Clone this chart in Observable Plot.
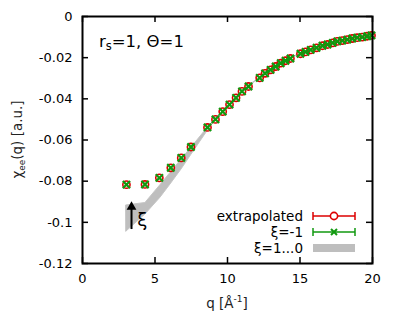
<!DOCTYPE html>
<html><head><meta charset="utf-8">
<script src="https://cdn.jsdelivr.net/npm/d3@7"></script>
<script src="https://cdn.jsdelivr.net/npm/@observablehq/plot@0.6"></script>
<style>
body{margin:0;background:#fff}
svg{font-family:"DejaVu Sans",sans-serif}
</style>
</head><body><div id="chart"></div>
<script>
// ---- data ----
const q = [3.03, 4.31, 5.30, 6.09, 6.81, 7.48, 8.62, 9.17, 9.67, 10.14, 10.59, 11.0, 11.45, 12.22, 12.59, 12.97, 13.32, 13.67, 14.0, 14.34, 15.03, 15.38, 15.74, 16.14, 16.55, 16.9, 17.26, 17.57, 17.91, 18.26, 18.6, 18.94, 19.29, 19.63, 19.93];
const chiExtrapolated = [-0.0817, -0.0816, -0.0784, -0.0735, -0.0687, -0.0634, -0.0539, -0.0500, -0.0462, -0.0428, -0.0395, -0.0364, -0.0340, -0.0298, -0.0276, -0.0259, -0.0243, -0.0227, -0.0215, -0.0204, -0.0181, -0.0172, -0.0162, -0.0152, -0.0142, -0.0136, -0.0128, -0.0121, -0.0117, -0.0112, -0.0107, -0.0103, -0.0100, -0.0096, -0.0092];
const chiXiMinus1 = [-0.0817, -0.0816, -0.0784, -0.0735, -0.0687, -0.0634, -0.0539, -0.0500, -0.0462, -0.0428, -0.0395, -0.0364, -0.0340, -0.0298, -0.0276, -0.0259, -0.0243, -0.0227, -0.0215, -0.0204, -0.0181, -0.0172, -0.0162, -0.0152, -0.0142, -0.0136, -0.0128, -0.0121, -0.0117, -0.0112, -0.0107, -0.0103, -0.0100, -0.0096, -0.0092];
const bandQ = [3.03, 4.34, 5.38, 6.07, 6.83, 7.52, 8.62, 9.17, 9.67, 10.14, 10.59, 11.0, 11.45, 12.22, 12.59, 12.97, 13.32, 13.67, 14.0, 14.34, 15.03, 15.38, 15.74, 16.14, 16.55, 16.9, 17.26, 17.57, 17.91, 18.26, 18.6, 18.94, 19.29, 19.63, 19.93];
const bandHi = [-0.0918, -0.0906, -0.0819, -0.0760, -0.0695, -0.0637, -0.0542, -0.0499, -0.0461, -0.0427, -0.0394, -0.0363, -0.0339, -0.0297, -0.0275, -0.0258, -0.0242, -0.0226, -0.0214, -0.0203, -0.0180, -0.0171, -0.0161, -0.0151, -0.0141, -0.0135, -0.0127, -0.0120, -0.0116, -0.0111, -0.0106, -0.0102, -0.0099, -0.0095, -0.0091];
const bandLo = [-0.1045, -0.0962, -0.0880, -0.0816, -0.0743, -0.0671, -0.0557, -0.0503, -0.0465, -0.0431, -0.0397, -0.0367, -0.0343, -0.0300, -0.0278, -0.0261, -0.0245, -0.0229, -0.0217, -0.0206, -0.0183, -0.0174, -0.0164, -0.0154, -0.0144, -0.0138, -0.0130, -0.0123, -0.0119, -0.0114, -0.0109, -0.0105, -0.0102, -0.0098, -0.0094];
const xTicks = [0, 5, 10, 15, 20];
const xTickLabels = ["0", "5", "10", "15", "20"];
const yTicks = [0, -0.02, -0.04, -0.06, -0.08, -0.1, -0.12];
const yTickLabels = ["0", "-0.02", "-0.04", "-0.06", "-0.08", "-0.1", "-0.12"];
const arrowQ = [3.38];
const arrowFrom = [-0.1035];
const arrowTo = [-0.0925];
const xiLabelQ = [3.78];
const xiLabelChi = [-0.0988];
const legendLabels = ["extrapolated", "ξ=-1", "ξ=1...0"];

// ---- layout ----
const W = 399, H = 330, mL = 82, mR = 27, mT = 16, mB = 67;
const innerW = W - mL - mR, innerH = H - mT - mB;
const RED = "#dd0000", GREEN = "#10990f", GREY = "#bebebe";

const pts = q.map((d, i) => ({q: d, a: chiExtrapolated[i], b: chiXiMinus1[i]}));
const band = bandQ.map((d, i) => ({q: d, lo: bandLo[i], hi: bandHi[i]}));
const arrows = arrowQ.map((d, i) => ({q: d, from: arrowFrom[i], to: arrowTo[i]}));
const xiLab = xiLabelQ.map((d, i) => ({q: d, chi: xiLabelChi[i], t: "ξ"}));

const plot = Plot.plot({
  width: W, height: H,
  marginLeft: mL, marginRight: mR, marginTop: mT, marginBottom: mB,
  x: {domain: [0, 20]},
  y: {domain: [-0.12, 0]},
  style: {fontFamily: "DejaVu Sans", fontSize: "13px", background: "white", color: "black"},
  marks: [
    Plot.areaY(band, {x: "q", y1: "lo", y2: "hi", fill: GREY, stroke: "#c6c6c6", strokeWidth: 1}),
    Plot.dot(pts, {x: "q", y: "a", r: 3.6, stroke: RED, strokeWidth: 1.6, fill: "none"}),
    Plot.dot(pts, {x: "q", y: "b", symbol: "times", r: 3.4, stroke: GREEN, strokeWidth: 2.2}),
    Plot.ruleX(arrows, {x: "q", y1: "from", y2: "to", stroke: "black", strokeWidth: 2}),
    Plot.dot(arrows, {x: "q", y: "to", symbol: "triangle", r: 3.6, fill: "black", stroke: "none"}),
    Plot.text(xiLab, {x: "q", y: "chi", text: "t", textAnchor: "start", fontSize: 18, fill: "black"}),
    // inward ticks (mirrored on all sides)
    Plot.tickX(xTicks, {x: d => d, insetTop: innerH - 6, stroke: "black", strokeWidth: 1.5}),
    Plot.tickX(xTicks, {x: d => d, insetBottom: innerH - 6, stroke: "black", strokeWidth: 1.5}),
    Plot.tickY(yTicks, {y: d => d, insetRight: innerW - 6, stroke: "black", strokeWidth: 1.5}),
    Plot.tickY(yTicks, {y: d => d, insetLeft: innerW - 6, stroke: "black", strokeWidth: 1.5}),
    Plot.frame({stroke: "black", strokeWidth: 2}),
    Plot.axisX(xTicks, {tickSize: 0, tickPadding: 10, label: null, tickFormat: d => xTickLabels[xTicks.indexOf(d)]}),
    Plot.axisY(yTicks, {tickSize: 0, tickPadding: 10, label: null, tickFormat: d => yTickLabels[yTicks.indexOf(d)]})
  ]
});
document.getElementById("chart").appendChild(plot);

const svg = d3.select(plot);
// y label
const yl = svg.append("text")
  .attr("transform", `translate(22,${mT + innerH / 2}) rotate(-90)`)
  .attr("text-anchor", "middle").attr("font-size", 13.5).attr("fill", "#222");
yl.append("tspan").text("χ");
yl.append("tspan").attr("font-size", 9).attr("dy", 3).text("ee");
yl.append("tspan").attr("dy", -3).text("(q) [a.u.]");
// x label
const xl = svg.append("text")
  .attr("x", mL + innerW / 2).attr("y", 308)
  .attr("text-anchor", "middle").attr("font-size", 13.5).attr("fill", "#222");
xl.append("tspan").text("q [Å");
xl.append("tspan").attr("font-size", 9).attr("dy", -6).text("-1");
xl.append("tspan").attr("dy", 6).text("]");
// annotation
const an = svg.append("text").attr("x", 99).attr("y", 47).attr("text-anchor", "start").attr("font-size", 16.5).attr("fill", "black");
an.append("tspan").text("r");
an.append("tspan").attr("font-size", 11.5).attr("dy", 3).text("s");
an.append("tspan").attr("dy", -3).text("=1, Θ=1");

// legend
const lg = svg.append("g").attr("font-size", 13.5).attr("fill", "black");
const rows = [216, 232, 248];
const lx1 = 313, lx2 = 355, lxm = 334;
legendLabels.forEach((t, i) => {
  lg.append("text").attr("x", 303).attr("y", rows[i]).attr("dy", "0.35em").attr("text-anchor", "end").text(t);
});
[[RED, rows[0]], [GREEN, rows[1]]].forEach(([c, y]) => {
  lg.append("line").attr("x1", lx1).attr("x2", lx2).attr("y1", y).attr("y2", y).attr("stroke", c).attr("stroke-width", 1.5);
  lg.append("line").attr("x1", lx1).attr("x2", lx1).attr("y1", y - 4).attr("y2", y + 4).attr("stroke", c).attr("stroke-width", 1.5);
  lg.append("line").attr("x1", lx2).attr("x2", lx2).attr("y1", y - 4).attr("y2", y + 4).attr("stroke", c).attr("stroke-width", 1.5);
});
lg.append("circle").attr("cx", lxm).attr("cy", rows[0]).attr("r", 3.6).attr("fill", "white").attr("stroke", RED).attr("stroke-width", 1.6);
lg.append("path").attr("d", `M${lxm-3},${rows[1]-3}L${lxm+3},${rows[1]+3}M${lxm-3},${rows[1]+3}L${lxm+3},${rows[1]-3}`).attr("stroke", GREEN).attr("stroke-width", 2);
lg.append("rect").attr("x", lx1).attr("y", rows[2] - 4).attr("width", lx2 - lx1).attr("height", 8).attr("fill", GREY);
</script>
</body></html>
